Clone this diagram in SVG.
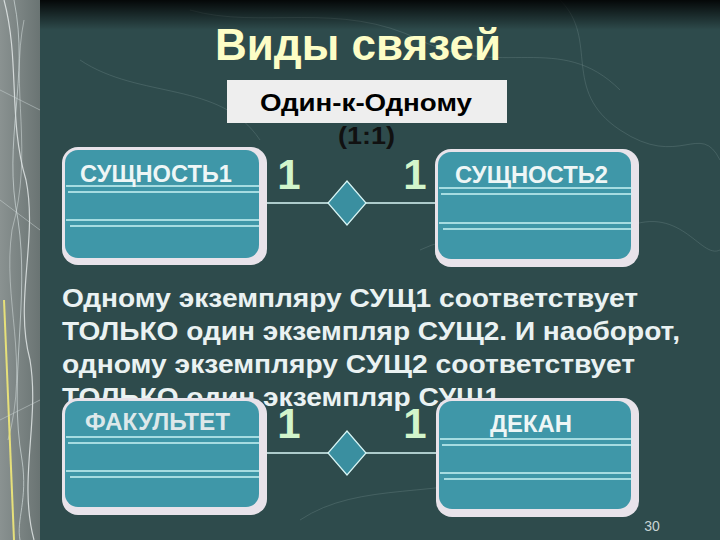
<svg xmlns="http://www.w3.org/2000/svg" width="720" height="540" viewBox="0 0 720 540">
<defs>
<linearGradient id="topfade" x1="0" y1="0" x2="0" y2="1">
<stop offset="0" stop-color="#000" stop-opacity="0.9"/>
<stop offset="1" stop-color="#000" stop-opacity="0"/>
</linearGradient>
<linearGradient id="strip" x1="0" y1="0" x2="1" y2="0">
<stop offset="0" stop-color="#8a9291"/>
<stop offset="1" stop-color="#6a7473"/>
</linearGradient>
<style>
.bg{fill:#2e4b4c}
.frame{fill:#e8e3ea}
.fill{fill:#3f97a8}
.sep{stroke:#c9f3f3;stroke-width:1.5;fill:none}
.lbl{font-family:"Liberation Sans",Arial,sans-serif;font-weight:bold;font-size:23px;fill:#eef6f6}
.one{font-family:"Liberation Sans",Arial,sans-serif;font-weight:bold;font-size:42px;fill:#d2f5cb}
.conn{stroke:#d8f6f6;stroke-width:1.5;fill:none}
.dia{fill:#3a8fa0;stroke:#d8f6f6;stroke-width:1.2}
.para{font-family:"Liberation Sans",Arial,sans-serif;font-weight:bold;font-size:26px;fill:#eaf2f2}
.topo{stroke:#6f8a8a;stroke-width:1;fill:none;opacity:0.35}
</style>
</defs>
<rect class="bg" x="0" y="0" width="720" height="540"/>
<g id="background-lines">
<path class="topo" d="M190,10 C260,30 340,0 420,40 C500,80 560,30 620,90"/>
<path class="topo" d="M560,0 C600,40 560,90 620,130 C680,170 700,120 720,160"/>
<path class="topo" d="M80,60 C140,100 220,80 260,140"/>
<path class="topo" d="M420,250 C480,220 560,260 620,230 C680,200 700,260 720,250"/>
<path class="topo" d="M300,520 C360,480 440,500 520,470"/>
</g>
<rect x="0" y="0" width="720" height="30" fill="url(#topfade)"/>
<g id="left-strip">
<rect x="0" y="0" width="40" height="540" fill="url(#strip)"/>
<path d="M4,0 C20,60 8,120 26,180 C38,240 14,300 30,360 C40,420 18,480 34,540" stroke="#e8eeee" stroke-width="1.2" fill="none" opacity="0.8"/>
<path d="M14,0 C30,80 2,140 18,220 C30,300 8,380 22,460 C28,500 16,520 20,540" stroke="#d0dada" stroke-width="1" fill="none" opacity="0.7"/>
<path d="M24,20 C10,90 34,150 12,230 C2,300 30,360 8,440" stroke="#e0e8e8" stroke-width="0.8" fill="none" opacity="0.6"/>
<path d="M4,300 L14,540" stroke="#e6e07a" stroke-width="2" fill="none"/>
<path d="M0,90 L40,110 M0,200 L40,230 M0,420 L40,400" stroke="#cfd8d8" stroke-width="0.8" opacity="0.6"/>
</g>
<g id="title">
<text x="358" y="60" text-anchor="middle" font-family="'Liberation Sans',Arial,sans-serif" font-weight="bold" font-size="44" fill="#fdfdc6">Виды связей</text>
</g>
<g id="relation-label">
<rect x="227" y="80" width="280" height="43" fill="#eeeeee"/>
<text x="260" y="111" textLength="212" lengthAdjust="spacingAndGlyphs" font-family="'Liberation Sans',Arial,sans-serif" font-weight="bold" font-size="24" fill="#000">Один-к-Одному</text>
<text x="338" y="144" textLength="57" lengthAdjust="spacingAndGlyphs" font-family="'Liberation Sans',Arial,sans-serif" font-weight="bold" font-size="23" fill="#111">(1:1)</text>
</g>
<g id="paragraph">
<text class="para" x="62" y="307" textLength="576" lengthAdjust="spacingAndGlyphs">Одному экземпляру СУЩ1 соответствует</text>
<text class="para" x="62" y="340" textLength="618" lengthAdjust="spacingAndGlyphs">ТОЛЬКО один экземпляр СУЩ2. И наоборот,</text>
<text class="para" x="62" y="373" textLength="573" lengthAdjust="spacingAndGlyphs">одному экземпляру СУЩ2 соответствует</text>
<text class="para" x="62" y="406" textLength="446" lengthAdjust="spacingAndGlyphs">ТОЛЬКО один экземпляр СУЩ1.</text>
</g>
<g id="connectors">
<line class="conn" x1="267" y1="203" x2="435" y2="203"/>
<polygon class="dia" points="347,181 366,203 347,225 328,203"/>
<line class="conn" x1="267" y1="453" x2="436" y2="453"/>
<polygon class="dia" points="347,431 366,453 347,475 328,453"/>
</g>
<g id="entity1">
<rect class="frame" x="62" y="147" width="205" height="118" rx="16"/>
<rect class="fill" x="65" y="150" width="194" height="108" rx="13"/>
<path class="sep" d="M66,186 H259 M68,192 H259 M66,220 H259 M70,226 H259"/>
<text class="lbl" x="80" y="182" textLength="152" lengthAdjust="spacingAndGlyphs">СУЩНОСТЬ1</text>
</g>
<g id="entity2">
<rect class="frame" x="435" y="149" width="204" height="118" rx="16"/>
<rect class="fill" x="438" y="152" width="193" height="107" rx="13"/>
<path class="sep" d="M439,188 H632 M441,194 H632 M439,223 H632 M443,229 H632"/>
<text class="lbl" x="455" y="183" textLength="153" lengthAdjust="spacingAndGlyphs">СУЩНОСТЬ2</text>
</g>
<g id="fakultet">
<rect class="frame" x="62" y="398" width="205" height="117" rx="16"/>
<rect class="fill" x="65" y="401" width="194" height="106" rx="13"/>
<path class="sep" d="M66,437 H259 M68,443 H259 M66,471 H259 M70,477 H259"/>
<text class="lbl" x="85" y="430" textLength="145" lengthAdjust="spacingAndGlyphs" style="fill:#dde8ea">ФАКУЛЬТЕТ</text>
</g>
<g id="dekan">
<rect class="frame" x="436" y="398" width="203" height="119" rx="16"/>
<rect class="fill" x="439" y="401" width="192" height="108" rx="13"/>
<path class="sep" d="M440,439 H632 M442,445 H632 M440,473 H632 M444,479 H632"/>
<text class="lbl" x="490" y="432" textLength="82" lengthAdjust="spacingAndGlyphs">ДЕКАН</text>
</g>
<g id="cardinalities">
<text class="one" x="289" y="189" text-anchor="middle">1</text>
<text class="one" x="415" y="189" text-anchor="middle">1</text>
<text class="one" x="289" y="438" text-anchor="middle">1</text>
<text class="one" x="415" y="438" text-anchor="middle">1</text>
</g>
<text x="652" y="531" text-anchor="middle" font-family="'Liberation Sans',Arial,sans-serif" font-size="14" fill="#c8d4d4">30</text>
</svg>
